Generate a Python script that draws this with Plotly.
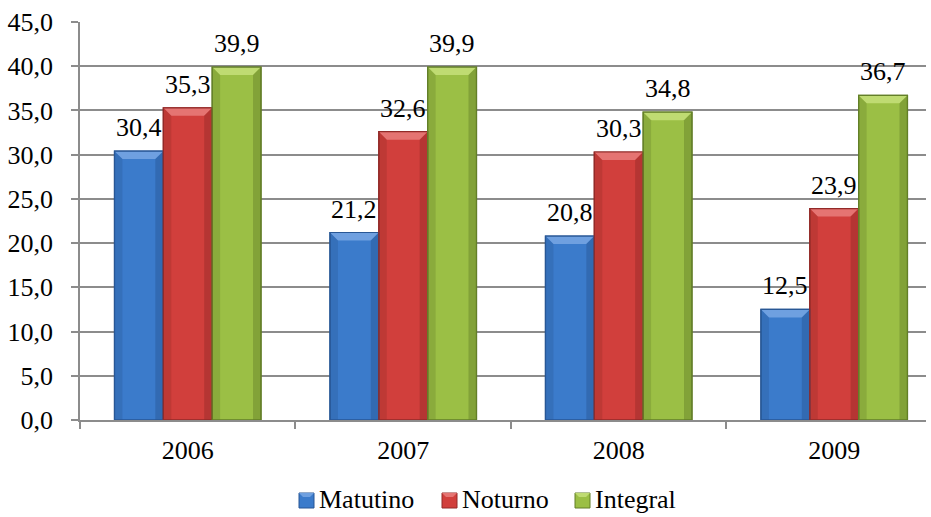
import plotly.graph_objects as go

years = ["2006", "2007", "2008", "2009"]
matutino = [30.4, 21.2, 20.8, 12.5]
noturno = [35.3, 32.6, 30.3, 23.9]
integral = [39.9, 39.9, 34.8, 36.7]

# name, values, body colour, edge colour, bevel highlight colour
series = [
    ("Matutino", matutino, "#3b7bcb", "#285795", "#6fa0e0"),
    ("Noturno", noturno, "#d13f3c", "#922a28", "#e57472"),
    ("Integral", integral, "#9bbf45", "#637f28", "#bfdb72"),
]

font_family = "Liberation Serif"
font_size = 26
bargap = 0.32
bar_w = (1 - bargap) / len(series)

W, H = 931, 517
M_L, M_R, M_T, M_B = 80, 5, 22, 97
plot_w = W - M_L - M_R
plot_h = H - M_T - M_B


def px_x(px):
    return (px - M_L) / plot_w


def px_y(py):
    return (H - M_B - py) / plot_h


fig = go.Figure()
shapes = []
annotations = []
for i, (name, vals, fill, edge, light) in enumerate(series):
    offset = (i - (len(series) - 1) / 2) * bar_w
    fig.add_trace(go.Bar(
        name=name,
        x=list(range(len(years))),
        y=vals,
        marker=dict(color=fill, line=dict(color=edge, width=1.2)),
        showlegend=False,
    ))
    for c, v in enumerate(vals):
        x0 = c + offset - bar_w / 2
        x1 = c + offset + bar_w / 2
        dx = 0.037
        h = 0.9
        # bevelled look: light top facet and darker side strips
        shapes.append(dict(
            type="path", xref="x", yref="y",
            path=f"M {x0},{v} L {x1},{v} L {x1-dx},{v-h} L {x0+dx},{v-h} Z",
            fillcolor=light, line=dict(width=0), layer="above",
        ))
        shapes.append(dict(
            type="path", xref="x", yref="y",
            path=f"M {x0},{v} L {x0+dx},{v-h} L {x0+dx},0 L {x0},0 Z",
            fillcolor=edge, opacity=0.3, line=dict(width=0), layer="above",
        ))
        shapes.append(dict(
            type="path", xref="x", yref="y",
            path=f"M {x1},{v} L {x1-dx},{v-h} L {x1-dx},0 L {x1},0 Z",
            fillcolor=edge, opacity=0.45, line=dict(width=0), layer="above",
        ))
        shapes.append(dict(
            type="rect", xref="x", yref="y",
            x0=x0, x1=x1, y0=v, y1=0,
            fillcolor="rgba(0,0,0,0)", line=dict(color=edge, width=1.2), layer="above",
        ))
        # value label above the bar
        annotations.append(dict(
            x=c + offset, y=v, xref="x", yref="y",
            text=f"{v:.1f}".replace(".", ","),
            showarrow=False, xanchor="center", yanchor="bottom", yshift=7,
            font=dict(family=font_family, size=font_size, color="#000000"),
        ))

# legend row: bevelled swatch followed by the series name
legend_swatch_left = [299, 442, 575]
sw = 15
sw_top, sw_bottom = 493, 508
for (name, vals, fill, edge, light), left in zip(series, legend_swatch_left):
    shapes.append(dict(
        type="rect", xref="paper", yref="paper",
        x0=px_x(left), x1=px_x(left + sw), y0=px_y(sw_bottom), y1=px_y(sw_top),
        fillcolor=fill, line=dict(color=edge, width=1),
    ))
    shapes.append(dict(
        type="path", xref="paper", yref="paper",
        path=(f"M {px_x(left)},{px_y(sw_top)} L {px_x(left + sw)},{px_y(sw_top)} "
              f"L {px_x(left + sw - 4)},{px_y(sw_top + 4)} L {px_x(left + 4)},{px_y(sw_top + 4)} Z"),
        fillcolor=light, line=dict(width=0),
    ))
    annotations.append(dict(
        x=px_x(left + sw + 3), y=px_y(499), xref="paper", yref="paper",
        text=name, showarrow=False, xanchor="left", yanchor="middle",
        font=dict(family=font_family, size=font_size, color="#000000"),
    ))

fig.update_layout(
    width=W,
    height=H,
    margin=dict(l=M_L, r=M_R, t=M_T, b=M_B, autoexpand=False),
    paper_bgcolor="#ffffff",
    plot_bgcolor="#ffffff",
    barmode="group",
    bargap=bargap,
    bargroupgap=0,
    separators=",.",
    font=dict(family=font_family, size=font_size, color="#000000"),
    showlegend=False,
    shapes=shapes,
    annotations=annotations,
    xaxis=dict(
        tickmode="array",
        tickvals=list(range(len(years))),
        ticktext=years,
        ticks="",
        showline=True,
        linecolor="#8c8c8c",
        linewidth=1.5,
        showgrid=False,
        zeroline=False,
        minor=dict(
            tickmode="array",
            tickvals=[c - 0.5 for c in range(len(years) + 1)],
            ticks="outside",
            ticklen=7,
            tickcolor="#8c8c8c",
            tickwidth=1.5,
            showgrid=False,
        ),
        ticklabelstandoff=6,
        tickfont=dict(family=font_family, size=font_size),
        range=[-0.5, 3.426],
    ),
    yaxis=dict(
        range=[0, 45],
        dtick=5,
        tickformat=".1f",
        ticks="outside",
        ticklen=7,
        tickcolor="#8c8c8c",
        tickwidth=1.5,
        showline=True,
        linecolor="#8c8c8c",
        linewidth=1.5,
        showgrid=True,
        gridcolor="#8c8c8c",
        gridwidth=1.5,
        zeroline=False,
        ticklabelstandoff=13,
        tickfont=dict(family=font_family, size=font_size),
    ),
)

fig.write_html("out.html")
